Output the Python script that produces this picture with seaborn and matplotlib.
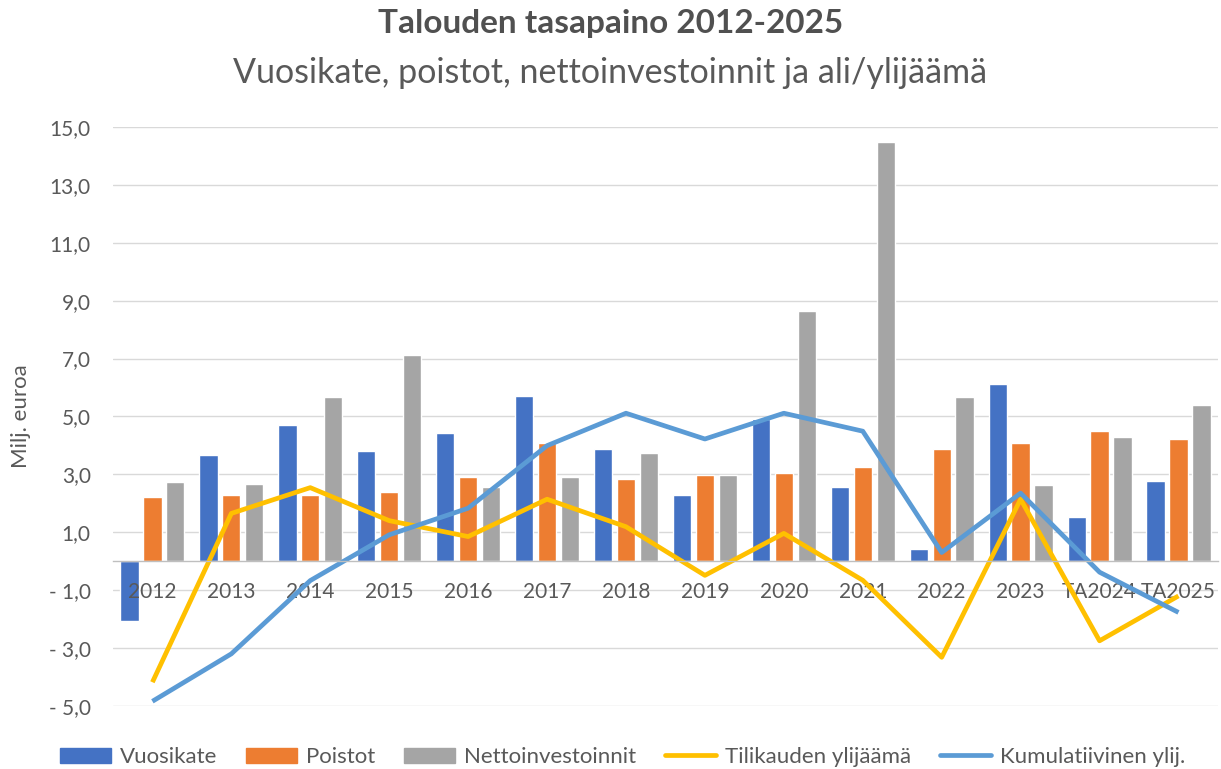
import numpy as np
import pandas as pd
import matplotlib
matplotlib.use('Agg')
import matplotlib.pyplot as plt
import seaborn as sns
from matplotlib.patches import Patch
from matplotlib.lines import Line2D

# data (Milj. euroa), luettu kuvasta
years = ['2012', '2013', '2014', '2015', '2016', '2017', '2018', '2019',
         '2020', '2021', '2022', '2023', 'TA2024', 'TA2025']
vuosikate = [-2.08, 3.66, 4.70, 3.80, 4.43, 5.70, 3.88, 2.28, 4.90, 2.55, 0.41, 6.11, 1.53, 2.76]
poistot = [2.20, 2.27, 2.27, 2.40, 2.90, 4.09, 2.83, 2.99, 3.06, 3.24, 3.88, 4.09, 4.51, 4.23]
nettoinvestoinnit = [2.75, 2.68, 5.66, 7.12, 2.55, 2.90, 3.74, 2.99, 8.63, 14.48, 5.67, 2.62, 4.29, 5.40]
tilikauden_ylijaama = [-4.18, 1.65, 2.54, 1.40, 0.85, 2.14, 1.19, -0.49, 0.96, -0.66, -3.32, 2.14, -2.75, -1.20]
kumulatiivinen = [-4.84, -3.20, -0.67, 0.91, 1.83, 3.99, 5.11, 4.22, 5.11, 4.49, 0.30, 2.35, -0.38, -1.77]

bar_names = ['Vuosikate', 'Poistot', 'Nettoinvestoinnit']
line_names = ['Tilikauden ylijäämä', 'Kumulatiivinen ylij.']
bar_colors = ['#4472C4', '#ED7D31', '#A5A5A5']
line_colors = ['#FFC000', '#5B9BD5']

bars = pd.DataFrame({'vuosi': years, 'Vuosikate': vuosikate, 'Poistot': poistot,
                     'Nettoinvestoinnit': nettoinvestoinnit})
bars = bars.melt(id_vars='vuosi', var_name='sarja', value_name='arvo')
lines = pd.DataFrame({'vuosi': years, 'Tilikauden ylijäämä': tilikauden_ylijaama,
                      'Kumulatiivinen ylij.': kumulatiivinen})
lines = lines.melt(id_vars='vuosi', var_name='sarja', value_name='arvo')

sns.set_theme(style='white')
plt.rcParams['font.family'] = ['Lato', 'DejaVu Sans']
txt = '#595959'

fig, ax = plt.subplots(figsize=(12.21, 7.69), dpi=100)
fig.subplots_adjust(left=0.0925, right=0.9975, top=0.835, bottom=0.082)

sns.barplot(data=bars, x='vuosi', y='arvo', hue='sarja', order=years, hue_order=bar_names,
            palette=bar_colors, saturation=1, width=0.87, gap=0.2, errorbar=None,
            legend=False, ax=ax)
sns.pointplot(data=lines, x='vuosi', y='arvo', hue='sarja', order=years, hue_order=line_names,
              palette=line_colors, markers='', linestyles='-', linewidth=3.4, errorbar=None,
              legend=False, ax=ax, solid_joinstyle='round', solid_capstyle='butt')

ax.set_xlim(-0.5, len(years) - 0.5)
ax.set_ylim(-5, 15)
yt = np.arange(-5, 16, 2)
ax.set_yticks(yt)
ax.set_yticklabels([(f'{v:.1f}' if v >= 0 else f'- {abs(v):.1f}').replace('.', ',') for v in yt])
ax.grid(axis='y', color='#d9d9d9', linewidth=1)
ax.set_axisbelow(True)
ax.xaxis.set_zorder(1.5)  # vuosiluvut pylväiden päälle, viivojen alle

for s in ['top', 'right', 'left']:
    ax.spines[s].set_visible(False)
ax.spines['bottom'].set_position(('data', 0))
ax.spines['bottom'].set_color('#bfbfbf')
ax.spines['bottom'].set_linewidth(1)

ax.tick_params(axis='x', length=0, pad=15, labelsize=15, labelcolor=txt)
ax.tick_params(axis='y', length=0, pad=16, labelsize=15, labelcolor=txt)
ax.set_xlabel('')
ax.set_ylabel('Milj. euroa', fontsize=16, color=txt)
ax.yaxis.set_label_coords(-0.074, 0.5)

fig.text(0.5, 1 - 23 / 769, 'Talouden tasapaino 2012-2025', ha='center', va='center',
         fontsize=24, fontweight='bold', color='#505050')
fig.text(0.5, 1 - 73 / 769, 'Vuosikate, poistot, nettoinvestoinnit ja ali/ylijäämä',
         ha='center', va='center', fontsize=24.5, color=txt)

handles = [Patch(color=c, label=n) for c, n in zip(bar_colors, bar_names)]
handles += [Line2D([0], [0], color=c, lw=3.4, label=n) for c, n in zip(line_colors, line_names)]
fig.legend(handles=handles, loc='center', bbox_to_anchor=(0.51, 1 - 757 / 769), ncol=5,
           frameon=False, fontsize=16, labelcolor=txt, handlelength=2.3, handleheight=0.65,
           handletextpad=0.4, columnspacing=1.3)

fig.savefig('out.png', dpi=100)
